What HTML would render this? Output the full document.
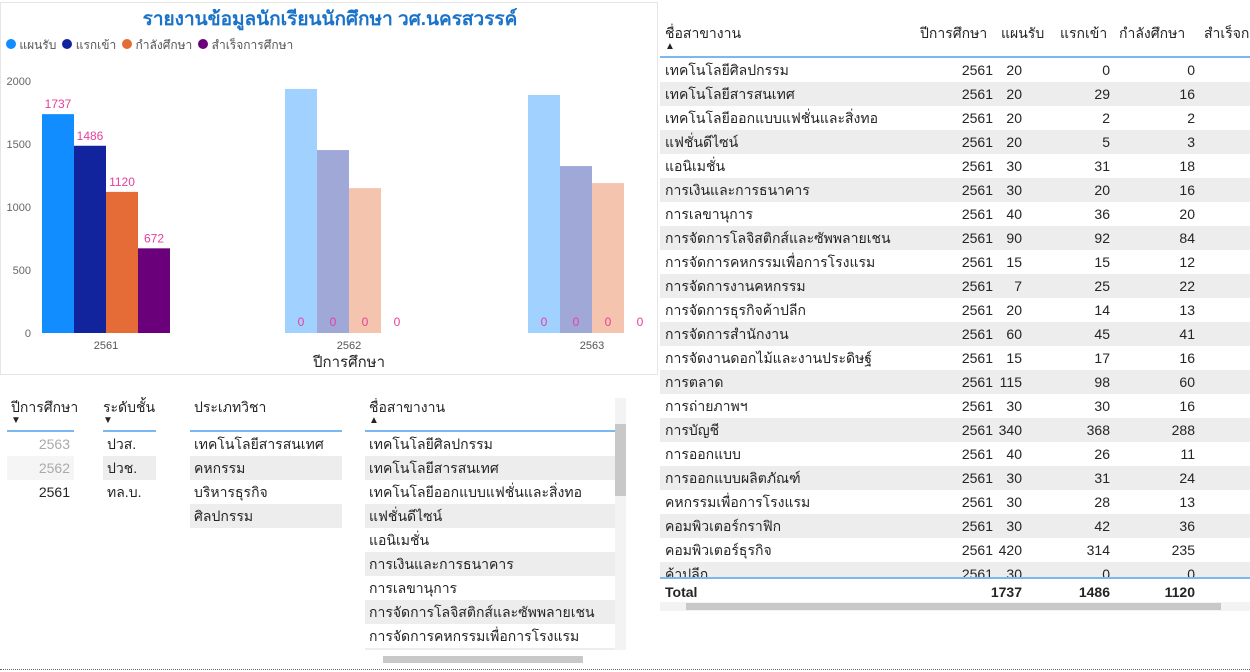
<!DOCTYPE html>
<html><head><meta charset="utf-8"><style>
body{margin:0;width:1250px;height:672px;background:#fff;font-family:"Liberation Sans","Noto Sans CJK SC",sans-serif;position:relative;overflow:hidden;color:#252423}
.abs{position:absolute}
.row{position:absolute;height:24px;font-size:14px;line-height:24px}
.gray{background:#eeeded}
.num{position:absolute;text-align:right}
.hd{height:32px;border-bottom:2px solid #7bb7f0;white-space:nowrap;line-height:18px}
.arr{font-size:10px;line-height:10px;display:block}
</style></head><body>
<div class="abs" style="left:0;top:2px;width:658px;height:373px;border:1px solid #e6e6e6;box-sizing:border-box"></div>
<div class="abs" style="left:0;width:660px;top:4px;text-align:center;font-size:19px;color:#1a73c8;font-weight:bold">รายงานข้อมูลนักเรียนนักศึกษา วศ.นครสวรรค์</div>
<div class="abs" style="left:6px;top:36px;font-size:12px;color:#555;display:flex;gap:6px">
<span><span style="display:inline-block;width:10px;height:10px;border-radius:5px;background:#118dff"></span> แผนรับ</span>
<span><span style="display:inline-block;width:10px;height:10px;border-radius:5px;background:#12239e"></span> แรกเข้า</span>
<span><span style="display:inline-block;width:10px;height:10px;border-radius:5px;background:#e66c37"></span> กำลังศึกษา</span>
<span><span style="display:inline-block;width:10px;height:10px;border-radius:5px;background:#6b007b"></span> สำเร็จการศึกษา</span>
</div>
<svg class="abs" style="left:0;top:0" width="660" height="380" id="chart"></svg>

<script>
const categories=["2561","2562","2563"];
const plan=[1737,1937,1889];
const enroll=[1486,1452,1325];
const studying=[1120,1150,1190];
const graduated=[672,0,0];
const labelPlan=[1737,0,0];
const labelEnroll=[1486,0,0];
const labelStudying=[1120,0,0];
const labelGrad=[672,0,0];
const yTicks=[0,500,1000,1500,2000];
const svg=document.getElementById('chart');
const NS='http://www.w3.org/2000/svg';
const y=v=>333-v*(252/2000);
const xc=i=>106+i*243;
function el(t,a,txt){const e=document.createElementNS(NS,t);for(const k in a)e.setAttribute(k,a[k]);if(txt!==undefined)e.textContent=txt;svg.appendChild(e);return e;}
yTicks.forEach(v=>{const t=el('text',{x:31,y:y(v)+4,'text-anchor':'end','font-size':11,fill:'#666','font-family':'Liberation Sans'},v);

});
const series=[[plan,'#118dff','#a0d1ff',labelPlan],[enroll,'#12239e','#a0a8d8',labelEnroll],[studying,'#e66c37','#f5c4ae',labelStudying],[graduated,'#6b007b','#c49aca',labelGrad]];
categories.forEach((c,i)=>{
 series.forEach((s,j)=>{
  const v=s[0][i];const x=xc(i)-64+j*32;
  if(v>0){const r=el('rect',{x:x,y:y(v),width:32,height:333-y(v),fill:i==0?s[1]:s[2]});
  
  }
  const lv=s[3][i];
  const ly=i==0?y(v)-6:326;
  const t=el('text',{x:x+16,y:ly,'text-anchor':'middle','font-size':12,fill:'#e83e9c','font-family':'Liberation Sans'},lv);
  
  
 });
 const t=el('text',{x:xc(i),y:349,'text-anchor':'middle','font-size':11,fill:'#555','font-family':'Liberation Sans'},c);
 
 
});
const xt=el('text',{x:349,y:367,'text-anchor':'middle','font-size':15,fill:'#252423','font-family':'Liberation Sans, Noto Sans CJK SC'},'ปีการศึกษา');


</script>

<!-- slicers -->
<div class="abs" style="left:7px;top:398px;width:67px;font-size:14px">
<div class="hd" style="padding-left:4px">ปีการศึกษา<span class="arr">▼</span></div>
<div style="height:24px;line-height:24px;text-align:right;padding-right:4px;color:#aaa">2563</div>
<div style="height:24px;line-height:24px;text-align:right;padding-right:4px;color:#aaa;background:#f5f5f5">2562</div>
<div style="height:24px;line-height:24px;text-align:right;padding-right:4px">2561</div>
</div>
<div class="abs" style="left:103px;top:398px;width:53px;font-size:14px">
<div class="hd">ระดับชั้น<span class="arr">▼</span></div>
<div style="height:24px;line-height:24px;padding-left:4px">ปวส.</div>
<div style="height:24px;line-height:24px;padding-left:4px" class="gray">ปวช.</div>
<div style="height:24px;line-height:24px;padding-left:4px">ทล.บ.</div>
</div>
<div class="abs" style="left:190px;top:398px;width:152px;font-size:14px">
<div class="hd" style="padding-left:4px">ประเภทวิชา</div>
<div style="height:24px;line-height:24px;padding-left:4px">เทคโนโลยีสารสนเทศ</div>
<div style="height:24px;line-height:24px;padding-left:4px" class="gray">คหกรรม</div>
<div style="height:24px;line-height:24px;padding-left:4px">บริหารธุรกิจ</div>
<div style="height:24px;line-height:24px;padding-left:4px" class="gray">ศิลปกรรม</div>
</div>
<div class="abs" style="left:365px;top:398px;width:250px;height:252px;overflow:hidden;font-size:14px">
<div class="hd" style="padding-left:4px">ชื่อสาขางาน<span class="arr">▲</span></div>
<div id="plist"></div>
</div>
<div class="abs" style="left:615px;top:398px;width:11px;height:252px;background:#f3f3f3"><div style="margin-top:26px;height:72px;background:#c8c8c8"></div></div>
<div class="abs" style="left:383px;top:656px;width:200px;height:7px;background:#c8c8c8"></div>
<div class="abs" style="left:0;top:669px;width:1250px;border-top:1px dotted #666"></div>

<!-- table -->
<div class="abs" style="left:660px;top:0;width:590px;height:56px;border-bottom:2px solid #7bb7f0;font-size:14px;line-height:18px">
<div class="abs" style="left:5px;top:24px">ชื่อสาขางาน<span class="arr">▲</span></div>
<div class="abs" style="left:260px;top:24px">ปีการศึกษา</div>
<div class="abs" style="left:341px;top:24px">แผนรับ</div>
<div class="abs" style="left:400px;top:24px">แรกเข้า</div>
<div class="abs" style="left:459px;top:24px">กำลังศึกษา</div>
<div class="abs" style="left:544px;top:24px;white-space:nowrap">สำเร็จก</div>
</div>
<div id="tbody"></div>
<div class="abs" style="left:660px;top:577px;width:590px;height:24px;border-top:2px solid #7bb7f0;font-size:14px;font-weight:bold;line-height:26px;background:#fff">
<span class="abs" style="left:5px">Total</span>
<span class="num" style="right:228px">1737</span>
<span class="num" style="right:140px">1486</span>
<span class="num" style="right:55px">1120</span>
</div>
<div class="abs" style="left:660px;top:602px;width:590px;height:9px;background:#f3f3f3"><div style="margin-left:26px;width:535px;height:7px;margin-top:1px;background:#c8c8c8"></div></div>

<script>
const names=["เทคโนโลยีศิลปกรรม","เทคโนโลยีสารสนเทศ","เทคโนโลยีออกแบบแฟชั่นและสิ่งทอ","แฟชั่นดีไซน์","แอนิเมชั่น","การเงินและการธนาคาร","การเลขานุการ","การจัดการโลจิสติกส์และซัพพลายเชน","การจัดการคหกรรมเพื่อการโรงแรม","การจัดการงานคหกรรม","การจัดการธุรกิจค้าปลีก","การจัดการสำนักงาน","การจัดงานดอกไม้และงานประดิษฐ์","การตลาด","การถ่ายภาพฯ","การบัญชี","การออกแบบ","การออกแบบผลิตภัณฑ์","คหกรรมเพื่อการโรงแรม","คอมพิวเตอร์กราฟิก","คอมพิวเตอร์ธุรกิจ","ค้าปลีก"];
const tPlan=[20,20,20,20,30,30,40,90,15,7,20,60,15,115,30,340,40,30,30,30,420,30];
const tEnroll=[0,29,2,5,31,20,36,92,15,25,14,45,17,98,30,368,26,31,28,42,314,0];
const tStudy=[0,16,2,3,18,16,20,84,12,22,13,41,16,60,16,288,11,24,13,36,235,0];
const tb=document.getElementById('tbody');
names.forEach((n,i)=>{
 const r=document.createElement('div');
 r.className='row'+(i%2?' gray':'');
 r.style.left='660px';r.style.width='590px';r.style.top=(58+i*24)+'px';
 
 
 r.innerHTML='<span class="abs" style="left:5px">'+n+'</span><span class="num" style="right:257px">2561</span><span class="num" style="right:228px">'+tPlan[i]+'</span><span class="num" style="right:140px">'+tEnroll[i]+'</span><span class="num" style="right:55px">'+tStudy[i]+'</span>';
 tb.appendChild(r);
});
const pl=document.getElementById('plist');
names.slice(0,10).forEach((n,i)=>{
 const d=document.createElement('div');
 d.style.cssText='height:24px;line-height:24px;padding-left:4px;white-space:nowrap'+(i%2?';background:#eeeded':'');
 d.textContent=n;
 
 
 pl.appendChild(d);
});
</script>
</body></html>
